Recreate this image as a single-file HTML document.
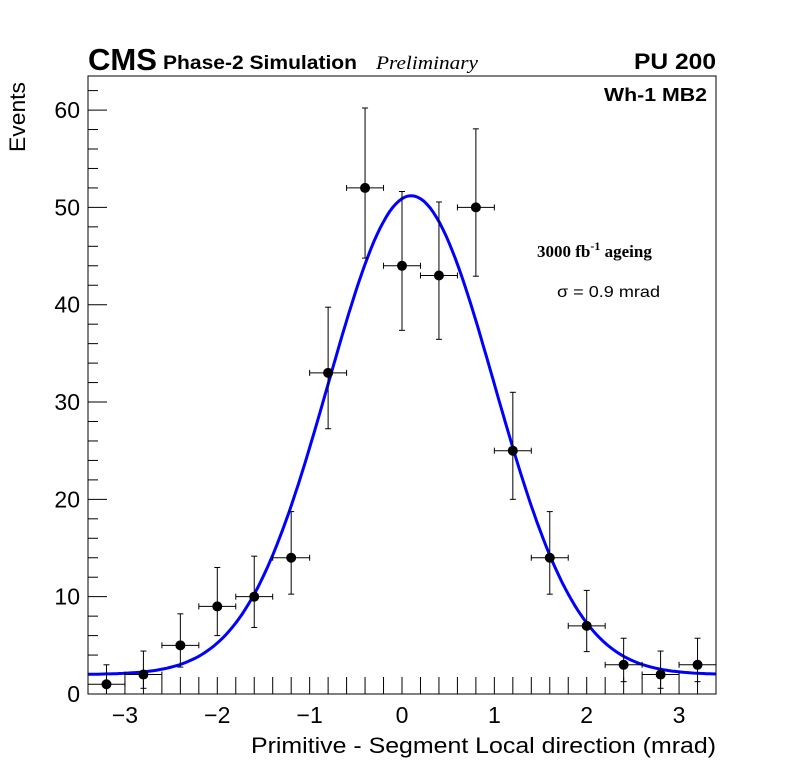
<!DOCTYPE html>
<html><head><meta charset="utf-8"><style>
body{margin:0;background:#fff;}
svg{display:block;font-family:"Liberation Sans",sans-serif;}
</style></head><body>
<svg id="c" width="796" height="772">
<rect x="0" y="0" width="796" height="772" fill="#fff"/>
<g id="axes"></g>
<g id="fit"></g>
<g id="pts"></g>
<rect x="88" y="76" width="628" height="618" fill="none" stroke="#000" stroke-width="1"/>
<text x="88" y="70" font-size="31" font-weight="bold" textLength="69" lengthAdjust="spacingAndGlyphs">CMS</text>
<text x="163" y="69" font-size="19" font-weight="bold" textLength="194" lengthAdjust="spacingAndGlyphs">Phase-2 Simulation</text>
<text x="376" y="69" font-size="19" font-style="italic" font-family="Liberation Serif,serif" textLength="102" lengthAdjust="spacingAndGlyphs">Preliminary</text>
<text x="716" y="69" font-size="22" font-weight="bold" text-anchor="end" textLength="82" lengthAdjust="spacingAndGlyphs">PU 200</text>
<text x="707" y="101" font-size="18" font-weight="bold" text-anchor="end" textLength="103" lengthAdjust="spacingAndGlyphs">Wh-1 MB2</text>
<text x="537" y="257" font-size="17" font-weight="bold" font-family="Liberation Serif,serif">3000 fb<tspan font-size="12" dy="-7">-1</tspan><tspan dy="7"> ageing</tspan></text>
<text x="557" y="297" font-size="16" textLength="103" lengthAdjust="spacingAndGlyphs">σ = 0.9 mrad</text>
<text x="251" y="753" font-size="22" textLength="465" lengthAdjust="spacingAndGlyphs">Primitive - Segment Local direction (mrad)</text>
<text transform="translate(25,152) rotate(-90)" font-size="22" textLength="70" lengthAdjust="spacingAndGlyphs">Events</text>
</svg>
<script>
const binCenters=[-3.2,-2.8,-2.4,-2.0,-1.6,-1.2,-0.8,-0.4,0,0.4,0.8,1.2,1.6,2.0,2.4,2.8,3.2];
const counts=[1,2,5,9,10,14,33,52,44,43,50,25,14,7,3,2,3];
const xTicks=[-3,-2,-1,0,1,2,3];
const xTickLabels=["\u22123","\u22122","\u22121","0","1","2","3"];
const yTicks=[0,10,20,30,40,50,60];
const yTickLabels=["0","10","20","30","40","50","60"];
const fitParams=[2,49.2,0.1,0.9]; // offset, amplitude, mean, sigma
const X0=88,X1=716,Y0=694,Y1=76,xmin=-3.4,xmax=3.4,ymin=0,ymax=63.5;
const sx=v=>X0+(v-xmin)/(xmax-xmin)*(X1-X0);
const sy=v=>Y0-(v-ymin)/(ymax-ymin)*(Y0-Y1);
const NS="http://www.w3.org/2000/svg";
function mk(t,a,p){const e=document.createElementNS(NS,t);for(const k in a)e.setAttribute(k,a[k]);p.appendChild(e);return e;}
const ax=document.getElementById('axes');
for(let i=-17;i<=17;i++){const v=i*0.2;const x=sx(v);
 const t=mk('line',{x1:x,x2:x,y1:Y0,y2:Y0-17,stroke:'#000','stroke-width':1},ax);
 
 }
xTicks.forEach((v,i)=>{const t=mk('text',{x:sx(v),y:723,'font-size':23,'text-anchor':'middle'},ax);t.textContent=xTickLabels[i];
 
 });
for(let v=0;v<=62;v+=2){const y=sy(v);const len=v%10===0?19:10;
 const t=mk('line',{x1:X0,x2:X0+len,y1:y,y2:y,stroke:'#000','stroke-width':1},ax);
 
 }
yTicks.forEach((v,i)=>{const t=mk('text',{x:80,y:sy(v)+8,'font-size':23,'text-anchor':'end'},ax);t.textContent=yTickLabels[i];
 
 });
const f=x=>fitParams[0]+fitParams[1]*Math.exp(-((x-fitParams[2])**2)/(2*fitParams[3]**2));
let d='';for(let i=0;i<=200;i++){const x=xmin+i*(xmax-xmin)/200;d+=(i?'L':'M')+sx(x).toFixed(1)+','+sy(f(x)).toFixed(1);}
const fc=mk('path',{d:d,fill:'none',stroke:'#0000ff','stroke-width':3},document.getElementById('fit'));


const pg=document.getElementById('pts');
binCenters.forEach((c,i)=>{const n=counts[i];const g=mk('g',{},pg);
 
 
 const r=Math.sqrt(n);const up=n+r+1,dn=Math.max(0,n-r);
 const x=sx(c),y=sy(n),hl=sx(c-0.2),hr=sx(c+0.2);
 mk('line',{x1:hl,x2:hr,y1:y,y2:y,stroke:'#000','stroke-width':1},g);
 mk('line',{x1:hl,x2:hl,y1:y-3,y2:y+3,stroke:'#000','stroke-width':1},g);
 mk('line',{x1:hr,x2:hr,y1:y-3,y2:y+3,stroke:'#000','stroke-width':1},g);
 mk('line',{x1:x,x2:x,y1:sy(up),y2:sy(dn),stroke:'#000','stroke-width':1},g);
 mk('line',{x1:x-3,x2:x+3,y1:sy(up),y2:sy(up),stroke:'#000','stroke-width':1},g);
 mk('line',{x1:x-3,x2:x+3,y1:sy(dn),y2:sy(dn),stroke:'#000','stroke-width':1},g);
 mk('circle',{cx:x,cy:y,r:5,fill:'#000'},g);});
</script>
</body></html>
